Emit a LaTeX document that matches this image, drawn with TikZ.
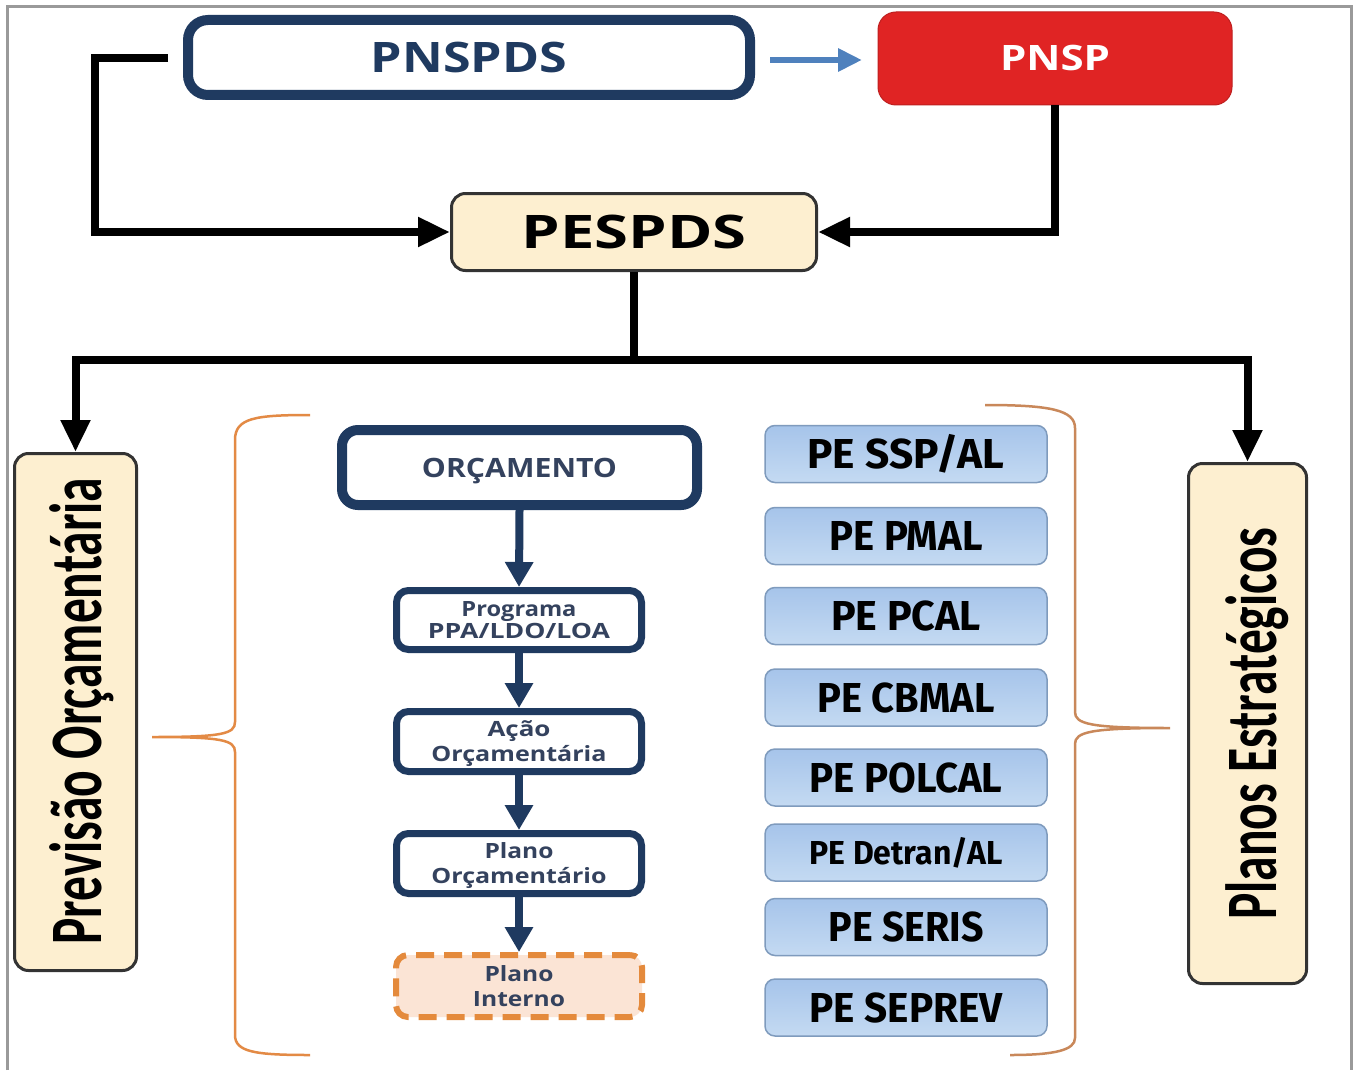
\documentclass[tikz,border=0pt]{standalone}
\usepackage{fontspec}
\usepackage{graphicx}
\setmainfont{Open Sans}
\newfontfamily\carl{Carlito}
\newfontfamily\fira{Fira Sans}
\usetikzlibrary{arrows.meta,calc}
\newcommand\fbx[3]{\resizebox{#1pt}{#2pt}{\vphantom{P}\smash{#3}}}
\definecolor{navy}{HTML}{1F3A60}
\definecolor{txtnavy}{HTML}{34425E}
\definecolor{cream}{HTML}{FDEFD0}
\definecolor{pnspred}{HTML}{E02424}
\definecolor{peach}{HTML}{FBE4D5}
\definecolor{orangeline}{HTML}{E48A3C}
\definecolor{braceor}{HTML}{E38A45}
\definecolor{bracetan}{HTML}{C9885A}
\definecolor{peborder}{HTML}{7F9BBD}
\definecolor{petop}{HTML}{A6C4EA}
\definecolor{pebot}{HTML}{C4DAF2}
\definecolor{bluearrow}{HTML}{4F81BD}
\definecolor{framegray}{HTML}{9A9A9A}
\begin{document}
\begin{tikzpicture}[x=1pt,y=-1pt,
  topbox/.style={draw=navy, line width=10pt, rounded corners=20pt, fill=white, inner sep=0pt, text=navy, font=\bfseries},
  redbox/.style={draw=pnspred!85!black, line width=1pt, rounded corners=18pt, fill=pnspred, inner sep=0pt, text=white, font=\bfseries},
  creambox/.style={draw=black!80, line width=3pt, rounded corners=14pt, fill=cream, inner sep=0pt, text=black},
  navybox/.style={draw=navy, line width=7pt, rounded corners=12pt, fill=white, minimum width=245pt, minimum height=59pt, inner sep=0pt, text=txtnavy, font=\bfseries\fontsize{10}{25}\selectfont, align=center},
  dashbox/.style={draw=orangeline, line width=6pt, dash pattern=on 18pt off 10pt, rounded corners=12pt, fill=peach, minimum width=246pt, minimum height=62pt, inner sep=0pt, text=txtnavy, font=\bfseries\fontsize{10}{25}\selectfont, align=center},
  pebox/.style={draw=peborder, line width=1.5pt, rounded corners=10pt, top color=petop, bottom color=pebot, minimum width=282pt, minimum height=57pt, inner sep=0pt, text=black, font=\fira\bfseries},
  blk/.style={draw=black, line width=8pt},
  blktip/.style={-{Triangle[width=28pt,length=32pt]}},
  navyarrow/.style={draw=navy, line width=8pt, -{Triangle[width=27pt,length=25pt]}},
  bracel/.style={draw=braceor, line width=2.5pt},
  bracer/.style={draw=bracetan, line width=2.5pt},
]
\useasboundingbox (0,0) rectangle (1356,1070);
\fill[white] (0,0) rectangle (1356,1070);
% frame
\draw[framegray, line width=3pt] (7,1070) -- (7,7) -- (1351,7) -- (1351,1070);

% top row
\node[topbox, minimum width=562pt, minimum height=75pt] (pnspds) at (469,57.5) {\fbx{196}{30}{PNSPDS}};
\node[redbox, minimum width=354pt, minimum height=93pt] (pnsp) at (1055,58.5) {\fbx{110}{25}{PNSP}};
\coordinate (ba) at (770,60);
\coordinate (bb) at (862,60);
\draw[draw=bluearrow, line width=6pt, -{Triangle[width=22pt,length=24pt]}] (ba) -- (bb);

% PESPDS
\node[creambox, minimum width=365pt, minimum height=77pt, font=\bfseries] (pespds) at (634,232) {\fbx{225}{33}{PESPDS}};
\coordinate (lstart) at (168,58);
\draw[blk, blktip] (lstart) -- ++(-73,0) |- (pespds.west);
\draw[blk, blktip] (pnsp.south) |- (pespds.east);

% side boxes
\node[creambox, minimum width=122pt, minimum height=517pt] (prev) at (75.5,712) {};
\node[creambox, minimum width=118pt, minimum height=520pt] (planos) at (1247.5,723.5) {};
\node[rotate=90, anchor=base west, inner sep=0pt, font=\carl\bfseries] (prevtxt) at (101,945) {\fbx{467}{48}{Previsão Orçamentária}};
\node[rotate=90, anchor=base west, inner sep=0pt, font=\carl\bfseries] (planostxt) at (1276,920) {\fbx{392}{47}{Planos Estratégicos}};

\draw[blk] (pespds.south) -- ++(0,88) coordinate (junc);
\draw[blk, blktip] (junc) -| (prev.north);
\draw[blk, blktip] (junc) -| (planos.north);

% budget chain
\node[topbox, line width=10pt, rounded corners=16pt, minimum width=355pt, minimum height=75pt, text=txtnavy] (orc) at (519.5,467.5) {\fbx{195}{19}{ORÇAMENTO}};
\node[navybox] (prog) at (519,620) {\fbx{115}{15}{Programa}\\[-3pt]\fbx{182}{15}{PPA/LDO/LOA}};
\node[navybox, minimum height=60pt] (acao) at (519,741.5) {\fbx{63}{15}{Ação}\\\fbx{175}{15}{Orçamentária}};
\node[navybox, minimum height=60pt] (plano) at (519,863.5) {\fbx{69}{15}{Plano}\\\fbx{175}{15}{Orçamentário}};
\node[dashbox] (interno) at (519,986) {\fbx{69}{15}{Plano}\\\fbx{92}{15}{Interno}};
\draw[navyarrow] (orc.south) -- (prog.north);
\draw[navyarrow] (prog.south) -- (acao.north);
\draw[navyarrow] (acao.south) -- (plano.north);
\draw[navyarrow] (plano.south) -- (interno.north);

% PE boxes
\node[pebox] (pe1) at (906,454) {\fbx{197}{29}{PE SSP/AL}};
\node[pebox] (pe2) at (906,536) {\fbx{153}{29}{PE PMAL}};
\node[pebox] (pe3) at (906,616) {\fbx{150}{29}{PE PCAL}};
\node[pebox] (pe4) at (906,697.5) {\fbx{177}{29}{PE CBMAL}};
\node[pebox] (pe5) at (906,777.5) {\fbx{193}{29}{PE POLCAL}};
\node[pebox] (pe6) at (906,852.5) {\fbx{193}{23}{PE Detran/AL}};
\node[pebox] (pe7) at (906,927) {\fbx{155}{29}{PE SERIS}};
\node[pebox] (pe8) at (906,1007.5) {\fbx{193}{29}{PE SEPREV}};

% braces
\draw[bracel] (310,415) .. controls (255,415) and (235,418) .. (235,440) -- (235,722)
  .. controls (235,734) and (222,737) .. (152,737)
  .. controls (222,737) and (235,740) .. (235,752) -- (235,1035)
  .. controls (235,1052) and (255,1055) .. (310,1055);
\draw[bracer] (985,405) .. controls (1050,405) and (1075,410) .. (1075,428) -- (1075,712)
  .. controls (1075,724) and (1090,728) .. (1170,728)
  .. controls (1090,728) and (1075,732) .. (1075,744) -- (1075,1038)
  .. controls (1075,1050) and (1055,1055) .. (1010,1055);
\end{tikzpicture}
\end{document}
